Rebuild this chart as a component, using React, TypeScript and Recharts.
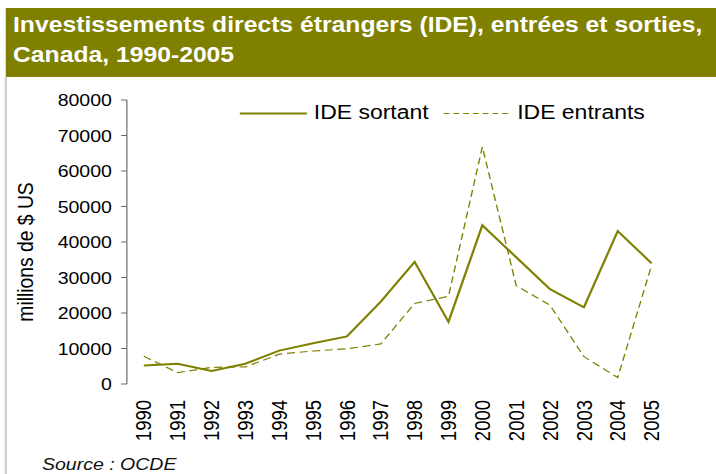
import React from "react";
import { LineChart, Line, XAxis, YAxis } from "recharts";

const years = [1990, 1991, 1992, 1993, 1994, 1995, 1996, 1997, 1998, 1999, 2000, 2001, 2002, 2003, 2004, 2005];
const ideSortant = [5200, 5700, 3700, 5700, 9400, 11500, 13400, 23200, 34400, 17500, 44700, 35700, 26700, 21600, 43100, 34000];
const ideEntrants = [7800, 3200, 4700, 4800, 8400, 9300, 9900, 11300, 22700, 24700, 66800, 27700, 22200, 7700, 1800, 33500];
const yTicks = [0, 10000, 20000, 30000, 40000, 50000, 60000, 70000, 80000];
const boundaryTicks = [...years.map((y) => y - 0.5), years[years.length - 1] + 0.5];

const data = years.map((year, i) => ({ year, sortant: ideSortant[i], entrants: ideEntrants[i] }));

const W = 623;
const H = 474;
const S = 716 / W;
const OLIVE = "#808000";
const FONT = "'Liberation Sans', Arial, sans-serif";

const YearTick = (props: any) => {
  const { x, y, payload } = props;
  return (
    <text
      x={x}
      y={y}
      transform={`rotate(-90, ${x}, ${y})`}
      textAnchor="end"
      dy="0.36em"
      fontSize={18.5}
      fontFamily={FONT}
      fill="#000"
    >
      {payload.value}
    </text>
  );
};

export default function App() {
  return (
    <div style={{ position: "absolute", left: 0, top: 0, width: 716, height: 474, overflow: "hidden", background: "#fff" }}>
      <div
        style={{
          position: "absolute",
          left: 0,
          top: 0,
          width: W,
          height: H,
          transform: `scaleX(${S})`,
          transformOrigin: "0 0",
        }}
      >
        <div style={{ position: "absolute", left: 5.2, top: 8, width: W - 5.2, height: 69, background: OLIVE }} />
        <div style={{ position: "absolute", left: 4.4, top: 77, width: 1.6, height: H - 77, background: "#d0d0d0" }} />
        <div style={{ position: "absolute", left: 0, top: 0 }}>
          <LineChart width={W} height={H} data={data} margin={{ top: 100, right: 41.3, bottom: 0, left: 0 }}>
            <XAxis
              xAxisId="ticks"
              dataKey="year"
              type="number"
              domain={[1989.5, 2005.5]}
              ticks={boundaryTicks}
              height={0}
              stroke="#666"
              tickSize={6}
              tick={() => <g />}
              allowDataOverflow
            />
            <XAxis
              xAxisId="labels"
              dataKey="year"
              type="number"
              domain={[1989.5, 2005.5]}
              ticks={years}
              height={90}
              axisLine={false}
              tickLine={false}
              tickSize={0}
              tickMargin={16}
              tick={<YearTick />}
              interval={0}
            />
            <YAxis
              domain={[0, 80000]}
              ticks={yTicks}
              width={110.4}
              stroke="#666"
              tickSize={5}
              tickMargin={8}
              interval={0}
              tick={{ fill: "#000", fontSize: 17, fontFamily: FONT }}
            />
            <Line
              xAxisId="labels"
              dataKey="entrants"
              stroke={OLIVE}
              strokeWidth={1.2}
              strokeDasharray="7 4"
              dot={false}
              activeDot={false}
              isAnimationActive={false}
            />
            <Line
              xAxisId="labels"
              dataKey="sortant"
              stroke={OLIVE}
              strokeWidth={2}
              dot={false}
              activeDot={false}
              isAnimationActive={false}
            />
          </LineChart>
        </div>
        <svg style={{ position: "absolute", left: 0, top: 0 }} width={W} height={H} pointerEvents="none">
          <text x={11.3} y={32} fontSize={21.5} fontWeight="bold" fontFamily={FONT} fill="#fff">
            Investissements directs étrangers (IDE), entrées et sorties,
          </text>
          <text x={11.3} y={62.3} fontSize={21.5} fontWeight="bold" fontFamily={FONT} fill="#fff">
            Canada, 1990-2005
          </text>
          <text
            x={21.7}
            y={252}
            transform="rotate(-90, 21.7, 252)"
            textAnchor="middle"
            dy="0.36em"
            fontSize={19.3}
            fontFamily={FONT}
            fill="#000"
          >
            millions de $ US
          </text>
          <line x1={208.7} y1={113.5} x2={267} y2={113.5} stroke={OLIVE} strokeWidth={2} />
          <text x={273} y={119.5} fontSize={20} fontFamily={FONT} fill="#000">IDE sortant</text>
          <line x1={386} y1={113.5} x2={444} y2={113.5} stroke={OLIVE} strokeWidth={1.2} strokeDasharray="5 3.5" />
          <text x={450} y={119.5} fontSize={20} fontFamily={FONT} fill="#000">IDE entrants</text>
          <text x={36.5} y={470} fontSize={17} fontStyle="italic" fontFamily={FONT} fill="#111">
            Source : OCDE
          </text>
        </svg>
      </div>
    </div>
  );
}
